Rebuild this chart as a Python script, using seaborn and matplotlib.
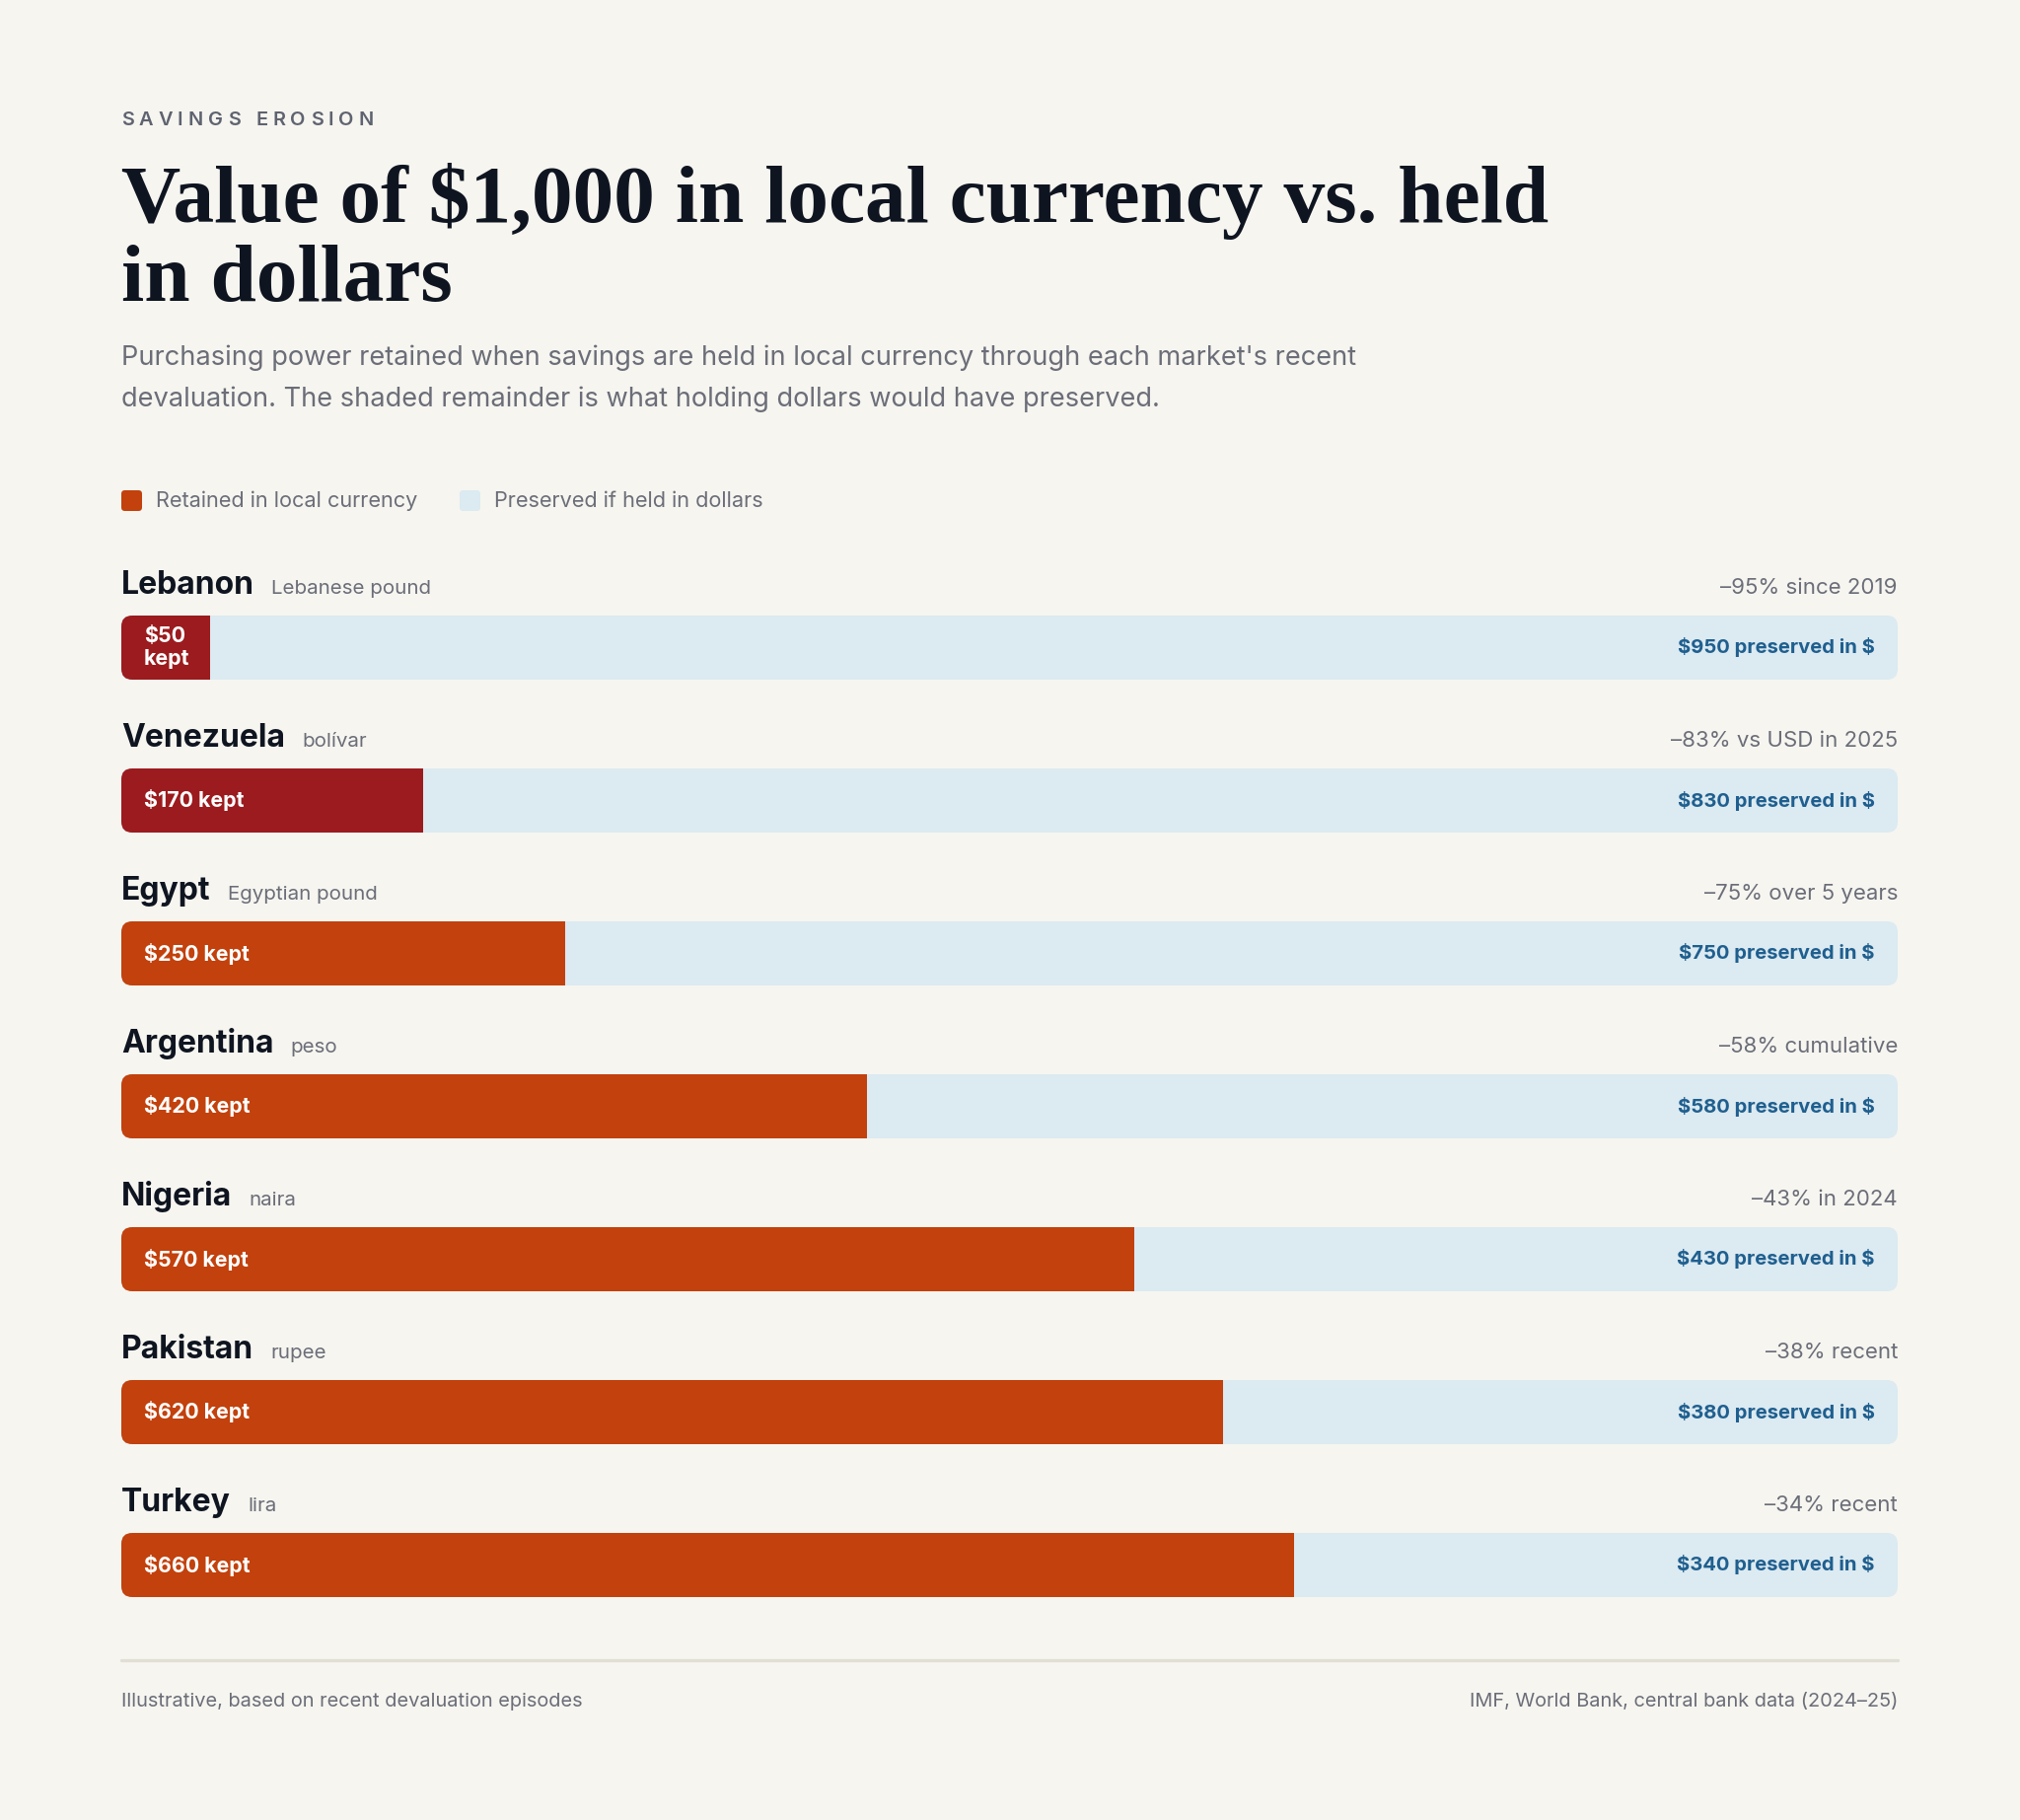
import matplotlib
matplotlib.use("Agg")
import numpy as np
import pandas as pd
import seaborn as sns
import matplotlib.pyplot as plt
from matplotlib.patches import FancyBboxPatch
from matplotlib.lines import Line2D

# === DATA ===
countries = ["Lebanon", "Venezuela", "Egypt", "Argentina", "Nigeria", "Pakistan", "Turkey"]
currencies = ["Lebanese pound", "bolívar", "Egyptian pound", "peso", "naira", "rupee", "lira"]
kept = [50, 170, 250, 420, 570, 620, 660]
notes = ["–95% since 2019", "–83% vs USD in 2025", "–75% over 5 years", "–58% cumulative",
         "–43% in 2024", "–38% recent", "–34% recent"]
START = 1000

# === STYLE ===
BG = "#f6f5f0"
INK = "#0f1520"
GRAY = "#6b6e78"
LIGHT = "#dceaf1"
ORANGE = "#c2410c"
DARK_RED = "#9b1b1e"
BLUE = "#1f5f8f"
W, H, DPI = 2048, 1845, 200
BAR_W = 65 / 155

sns.set_theme(style="white")
plt.rcParams["font.family"] = ["Inter", "DejaVu Sans"]
plt.rcParams["text.parse_math"] = False


def fx(px):
    return px / W


def fy(px):
    return 1 - px / H


df = pd.DataFrame({"country": countries, "kept": kept})
df["total"] = START
df["preserved"] = START - df["kept"]
df["tone"] = np.where(df["kept"] < 200, "severe", "moderate")

fig = plt.figure(figsize=(W / DPI, H / DPI), dpi=DPI, facecolor=BG)
renderer = fig.canvas.get_renderer()

# === HEADER ===
def spaced_text(x_px, y_px, s, spacing_px, **kw):
    x = x_px
    for ch in s:
        if ch == " ":
            x += kw["fontsize"] * DPI / 72 * 0.28 + spacing_px
            continue
        t = fig.text(fx(x), fy(y_px), ch, va="baseline", **kw)
        x += t.get_window_extent(renderer).width + spacing_px


spaced_text(123, 127, "SAVINGS EROSION", 5.0, fontsize=7.2, fontweight="semibold", color="#5f6370")

title_kw = dict(family=["Liberation Serif"], fontweight="bold", fontsize=30, color=INK, va="baseline")
fig.text(fx(123), fy(225), "Value of $1,000 in local currency vs. held", **title_kw)
fig.text(fx(123), fy(305), "in dollars", **title_kw)

sub_kw = dict(fontsize=9.8, color=GRAY, va="baseline")
fig.text(fx(123), fy(370), "Purchasing power retained when savings are held in local currency "
         "through each market's recent", **sub_kw)
fig.text(fx(123), fy(412), "devaluation. The shaded remainder is what holding dollars would have "
         "preserved.", **sub_kw)

# legend swatches
for x_sw, x_txt, col, lab in [(123, 158, ORANGE, "Retained in local currency"),
                              (466, 501, LIGHT, "Preserved if held in dollars")]:
    sq = FancyBboxPatch((x_sw / DPI, (H - 518) / DPI), 21 / DPI, 21 / DPI,
                        boxstyle="round,pad=0,rounding_size=0.018",
                        transform=fig.dpi_scale_trans, facecolor=col, edgecolor="none")
    fig.add_artist(sq)
    fig.text(fx(x_txt), fy(508), lab, fontsize=7.8, color=GRAY, va="center")

# === BARS ===
ax = fig.add_axes([fx(123), fy(1664), fx(1924) - fx(123), (1664 - 579) / H])
ax.set_facecolor("none")

sns.barplot(data=df, x="total", y="country", orient="h", color=LIGHT, width=BAR_W,
            linewidth=0, saturation=1, errorbar=None, ax=ax)
sns.barplot(data=df, x="kept", y="country", hue="tone", orient="h", width=BAR_W,
            palette={"severe": DARK_RED, "moderate": ORANGE}, dodge=False,
            linewidth=0, saturation=1, errorbar=None, legend=False, ax=ax)

ax.set_xlim(0, START)
ax.set_ylim(len(countries) - 0.5, -0.5)
ax.set_axis_off()

# rounded track per row, used to clip both segments
px_x = START / (1924 - 123)
r_x = 11 * px_x
aspect = (11 / 155) / r_x
clips = []
for i in range(len(countries)):
    c = FancyBboxPatch((0, i - BAR_W / 2), START, BAR_W,
                       boxstyle=f"round,pad=0,rounding_size={r_x}",
                       mutation_aspect=aspect, transform=ax.transData)
    clips.append(c)
for p in ax.patches:
    row = int(round(p.get_y() + p.get_height() / 2))
    p.set_clip_path(clips[row])

# === LABELS ===
for i, row in df.iterrows():
    yb = i - 0.352
    name = ax.text(0, yb, row["country"], fontsize=11.5, fontweight="bold", color=INK,
                   va="baseline", ha="left")
    bb = name.get_window_extent(renderer)
    x_end = ax.transData.inverted().transform((bb.x1, bb.y0))[0]
    ax.text(x_end + 17 * px_x, yb, currencies[i], fontsize=7.4, color=GRAY, va="baseline")
    ax.text(START, yb, notes[i], fontsize=8, color=GRAY, va="baseline", ha="right")

    k = row["kept"]
    lab = f"${k}\nkept" if k < 100 else f"${k} kept"
    ax.text(23 * px_x, i, lab, fontsize=7.7, fontweight="bold", color="white",
            va="center", ha="left", linespacing=1.15)
    ax.text(START - 23 * px_x, i, f"${row['preserved']} preserved in $", fontsize=7.3,
            fontweight="bold", color=BLUE, va="center", ha="right")

# === FOOTER ===
fig.add_artist(Line2D([fx(123), fx(1924)], [fy(1683), fy(1683)], transform=fig.transFigure,
                      color="#e1ded4", linewidth=1.2))
fig.text(fx(123), fy(1730), "Illustrative, based on recent devaluation episodes",
         fontsize=7.2, color=GRAY, va="baseline")
fig.text(fx(1924), fy(1730), "IMF, World Bank, central bank data (2024–25)",
         fontsize=7.2, color=GRAY, va="baseline", ha="right")

fig.savefig("out.png", dpi=DPI, facecolor=BG)
